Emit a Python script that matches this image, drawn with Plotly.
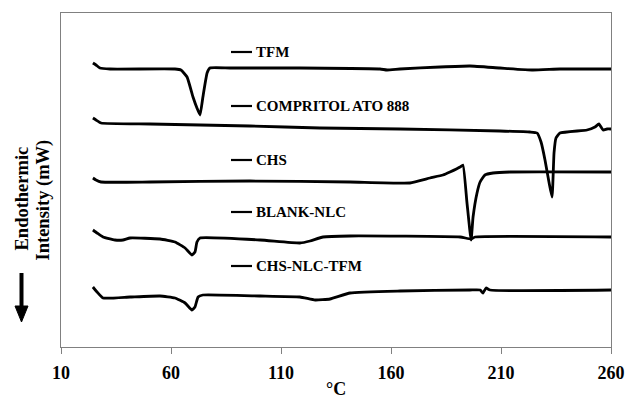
import plotly.graph_objects as go

# Temperature (°C) and relative heat-flow signal (arbitrary offset units) for each sample
tfm_t = [24.5, 25.9, 27.7, 32.3, 61.8, 64.5, 67.3, 70.0, 71.8, 73.2, 74.5, 76.4, 77.7, 86.8,
         118.6, 155.0, 158.2, 164.1, 182.3, 195.9, 209.5, 224.5, 236.8, 260.0]
tfm_v = [284, 282, 279, 278, 278, 277, 270, 250, 239, 232, 250, 274, 279, 279,
         279, 278, 277, 278, 280, 281, 279, 277, 278, 278]

comp_t = [24.5, 25.9, 28.2, 50.5, 95.9, 127.7, 164.1, 209.5, 223.2, 226.4, 228.2, 230.0,
          231.8, 233.2, 234.1, 235.0, 236.8, 249.1, 252.7, 254.5, 256.4, 258.2, 260.0]
comp_v = [229, 227, 224, 223, 221, 219, 218, 216, 215, 214, 205, 187,
          165, 150, 194, 209, 214, 217, 220, 223, 217, 218, 218]

chs_t = [24.5, 25.9, 28.2, 50.5, 95.9, 141.4, 168.6, 177.7, 183.6, 186.8, 191.4, 192.7,
         194.5, 196.4, 197.3, 199.1, 200.5, 202.7, 206.4, 214.1, 260.0]
chs_v = [169, 167, 165, 165, 166, 165, 164, 169, 172, 175, 180, 182,
         145, 107, 130, 154, 165, 172, 174, 175, 175]

blank_t = [24.5, 26.4, 29.1, 34.5, 38.2, 41.4, 55.0, 61.8, 66.4, 69.5, 70.9, 71.8, 73.2,
           100.5, 118.6, 123.2, 129.1, 141.4, 191.4, 196.4, 198.2, 260.0]
blank_v = [117, 114, 110, 107, 107, 109, 108, 105, 99, 92, 95, 105, 109,
           107, 104, 106, 110, 111, 110, 108, 110, 110]

nlc_t = [24.5, 26.4, 29.1, 41.4, 55.0, 61.8, 66.4, 69.5, 70.9, 72.3, 74.5, 100.5, 118.6,
         125.5, 132.3, 141.4, 164.1, 195.9, 200.5, 201.8, 203.2, 205.0, 260.0]
nlc_v = [60, 55, 49, 50, 51, 49, 44, 37, 40, 50, 52, 51, 50,
         47, 48, 54, 56, 57, 57, 54, 59, 57, 57]

labels = ["TFM", "COMPRITOL ATO 888", "CHS", "BLANK-NLC", "CHS-NLC-TFM"]
x_ticks = [10, 60, 110, 160, 210, 260]

series = [(tfm_t, tfm_v), (comp_t, comp_v), (chs_t, chs_v), (blank_t, blank_v), (nlc_t, nlc_v)]

W, H = 626, 398
L, R, T, B = 61, 611, 13, 347


def px(x):
    return (x - L) / (R - L)


def py(y):
    return (B - y) / (B - T)


fig = go.Figure()
for (t, v), name in zip(series, labels):
    fig.add_trace(go.Scatter(x=t, y=v, mode="lines", name=name,
                             line=dict(color="black", width=2.8, shape="spline", smoothing=0.4),
                             showlegend=False, hoverinfo="skip", cliponaxis=False))

font_family = "Liberation Serif, Times New Roman, serif"
shapes = []
annotations = []
label_y = [52, 106, 160, 212, 266]
for name, ly in zip(labels, label_y):
    shapes.append(dict(type="line", xref="paper", yref="paper",
                       x0=px(231), x1=px(252), y0=py(ly), y1=py(ly),
                       line=dict(color="black", width=2.2)))
    annotations.append(dict(xref="paper", yref="paper", x=px(254), y=py(ly),
                            xanchor="left", yanchor="middle", showarrow=False,
                            text="<b>" + name + "</b>",
                            font=dict(family=font_family, size=15, color="black")))

# Y title (two rotated lines)
annotations.append(dict(xref="paper", yref="paper", x=px(21.5), y=py(199),
                        xanchor="center", yanchor="middle", showarrow=False, textangle=-90,
                        text="<b>Endothermic</b>",
                        font=dict(family=font_family, size=18.5, color="black")))
annotations.append(dict(xref="paper", yref="paper", x=px(42.5), y=py(200),
                        xanchor="center", yanchor="middle", showarrow=False, textangle=-90,
                        text="<b>Intensity (mW)</b>",
                        font=dict(family=font_family, size=18.5, color="black")))
# X title
annotations.append(dict(xref="paper", yref="paper", x=px(336), y=py(389),
                        xanchor="center", yanchor="middle", showarrow=False,
                        text="<b>°C</b>",
                        font=dict(family=font_family, size=18, color="black")))

# Down arrow
shapes.append(dict(type="line", xref="paper", yref="paper",
                   x0=px(21.5), x1=px(21.5), y0=py(273), y1=py(308),
                   line=dict(color="black", width=4)))
shapes.append(dict(type="path", xref="paper", yref="paper",
                   path=f"M {px(15)} {py(306)} L {px(28)} {py(306)} L {px(21.5)} {py(322)} Z",
                   fillcolor="black", line=dict(color="black", width=1)))

fig.update_layout(
    width=W, height=H,
    margin=dict(l=L, r=W - R, t=T, b=H - B, autoexpand=False),
    paper_bgcolor="white", plot_bgcolor="white",
    shapes=shapes, annotations=annotations,
    xaxis=dict(range=[10, 260], tickvals=x_ticks, ticks="outside", ticklen=6,
               tickcolor="#808080", linecolor="#808080", linewidth=1, mirror=True,
               showgrid=False, zeroline=False, automargin=False, ticklabelstandoff=3,
               tickfont=dict(family=font_family, size=18, color="black", weight="bold")),
    yaxis=dict(range=[0, 334], showticklabels=False, ticks="", linecolor="#808080",
               linewidth=1, mirror=True, showgrid=False, zeroline=False, automargin=False),
)

fig.write_html("out.html")
